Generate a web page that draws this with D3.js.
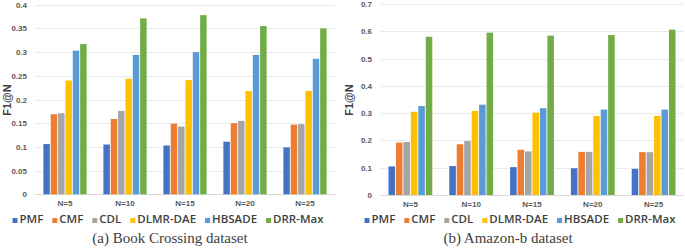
<!DOCTYPE html>
<html>
<head>
<meta charset="utf-8">
<script src="https://cdn.jsdelivr.net/npm/d3@7"></script>
<style>
  body { margin: 0; background: #fff; }
  svg text { font-family: "Liberation Sans", Arial, sans-serif; }
</style>
</head>
<body>
<svg id="chart" width="685" height="250"></svg>
<script>
// Chart data
var categories = ["N=5", "N=10", "N=15", "N=20", "N=25"];
var methods = ["PMF", "CMF", "CDL", "DLMR-DAE", "HBSADE", "DRR-Max"];
var colors = ["#4472C4", "#ED7D31", "#A5A5A5", "#FFC000", "#5B9BD5", "#70AD47"];

// (a) Book Crossing, one row per method
var bookValues = [
    [0.106, 0.105, 0.103, 0.111, 0.099],
    [0.169, 0.159, 0.149, 0.150, 0.147],
    [0.171, 0.176, 0.143, 0.155, 0.148],
    [0.240, 0.244, 0.241, 0.218, 0.218],
    [0.303, 0.294, 0.300, 0.294, 0.286],
    [0.317, 0.371, 0.378, 0.355, 0.350]
];
var bookTicks = [0, 0.05, 0.1, 0.15, 0.2, 0.25, 0.3, 0.35, 0.4];

// (b) Amazon-b
var amazonValues = [
    [0.105, 0.106, 0.102, 0.098, 0.096],
    [0.192, 0.186, 0.166, 0.158, 0.157],
    [0.194, 0.198, 0.160, 0.158, 0.157],
    [0.305, 0.308, 0.302, 0.290, 0.290],
    [0.326, 0.331, 0.318, 0.313, 0.313],
    [0.580, 0.595, 0.584, 0.586, 0.606]
];
var amazonTicks = [0, 0.1, 0.2, 0.3, 0.4, 0.5, 0.6, 0.7];

var svg = d3.select('#chart');

function drawPanel(opts) {
    var g = svg.append('g');
    let x0 = d3.scaleBand()
        .domain(categories)
        .range([opts.left, opts.right])
        .paddingInner(0.25)
        .paddingOuter(0.125);
    let x1 = d3.scaleBand()
        .domain(methods)
        .range([0, x0.bandwidth()])
        .padding(0.12);
    let y = d3.scaleLinear()
        .domain([0, opts.ticks[opts.ticks.length - 1]])
        .range([opts.bottom, opts.top]);

    // gridlines
    g.selectAll('line.grid')
        .data(opts.ticks)
        .enter()
    .append('line')
        .attr('x1', opts.left)
        .attr('x2', opts.right)
        .attr('y1', d => Math.round(y(d)) + 0.5)
        .attr('y2', d => Math.round(y(d)) + 0.5)
        .style('stroke', d => d === 0 ? '#d9d9d9' : '#ebebeb')
        .style('stroke-width', 1);

    // y tick labels
    g.selectAll('text.ytick')
        .data(opts.ticks)
        .enter()
    .append('text')
        .attr('x', opts.left - 8)
        .attr('y', d => y(d) + 3)
        .attr('text-anchor', 'end')
        .attr('font-size', 8)
        .style('font-weight', 'bold')
        .attr('fill', '#595959')
        .text(d => d);

    // bars
    let groups = g.selectAll('g.cat')
        .data(categories)
        .enter()
    .append('g')
        .attr('transform', d => 'translate(' + x0(d) + ',0)');
    groups.selectAll('rect')
        .data((c, ci) => methods.map((m, mi) => ({ m: m, i: mi, v: opts.values[mi][ci] })))
        .enter()
    .append('rect')
        .attr('x', d => x1(d.m))
        .attr('y', d => y(d.v))
        .attr('width', x1.bandwidth())
        .attr('height', d => y(0) - y(d.v))
        .attr('fill', d => colors[d.i]);

    // category labels
    g.selectAll('text.xtick')
        .data(categories)
        .enter()
    .append('text')
        .attr('x', d => x0(d) + x0.bandwidth() / 2)
        .attr('y', opts.bottom + 12)
        .attr('text-anchor', 'middle')
        .attr('font-size', 8)
        .style('font-weight', 'bold')
        .attr('fill', '#595959')
        .text(d => d);

    // y axis title
    g.append('text')
        .attr('transform', 'translate(' + opts.titleX + ',' + opts.titleY + ') rotate(-90)')
        .attr('text-anchor', 'middle')
        .attr('font-size', 11)
        .style('font-weight', 'bold')
        .attr('fill', '#404040')
        .text('F1@N');

    // legend
    let legend = g.append('g');
    let lx = 0;
    methods.forEach(function (m, i) {
        legend.append('rect')
            .attr('x', lx)
            .attr('y', -5)
            .attr('width', 5)
            .attr('height', 5)
            .attr('fill', colors[i]);
        let t = legend.append('text')
            .attr('x', lx + 7)
            .attr('y', 0)
            .attr('font-size', 11.5)
            .style('font-family', '"Open Sans", sans-serif')
            .style('font-weight', 600)
            .attr('fill', '#404040')
            .text(m);
        lx += 7 + t.node().getComputedTextLength() + 9;
    });
    lx -= 9;
    legend.attr('transform', 'translate(' + (opts.legendX - lx / 2) + ',' + 223 + ')');

    // caption
    g.append('text')
        .attr('x', opts.captionX)
        .attr('y', 243)
        .attr('text-anchor', 'middle')
        .attr('font-size', 15)
        .style('font-family', '"Liberation Serif", "DejaVu Serif", serif')
        .attr('fill', '#404040')
        .text(opts.caption);
}

drawPanel({
    left: 35, right: 335, top: 4.7, bottom: 194.3,
    values: bookValues, ticks: bookTicks,
    titleX: 11, titleY: 100,
    legendX: 168, captionX: 170,
    caption: '(a) Book Crossing dataset'
});

drawPanel({
    left: 380, right: 684, top: 4, bottom: 195,
    values: amazonValues, ticks: amazonTicks,
    titleX: 353, titleY: 100,
    legendX: 520, captionX: 508,
    caption: '(b) Amazon-b dataset'
});
</script>
</body>
</html>
